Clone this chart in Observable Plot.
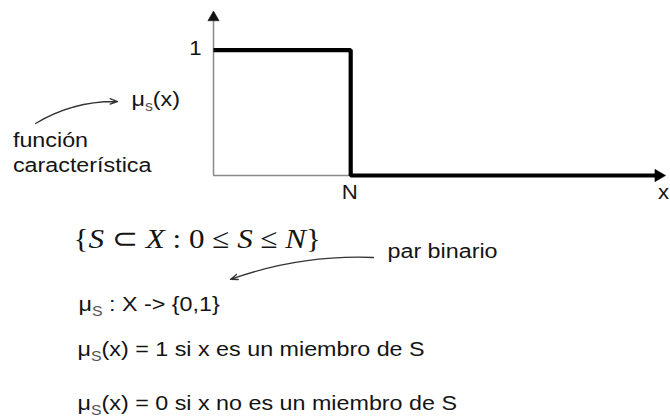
<!DOCTYPE html>
<html>
<head>
<meta charset="utf-8">
<script src="https://cdn.jsdelivr.net/npm/d3@7"></script>
<script src="https://cdn.jsdelivr.net/npm/@observablehq/plot@0.6"></script>
<style>
  body { margin: 0; background: #fff; }
  #chart svg { display: block; }
</style>
</head>
<body>
<div id="chart"></div>
<script>
// Characteristic (crisp) membership function of S: 1 on [0, N], 0 beyond N.
const N = 1;
const stepX = [0, N, 3.22];
const stepY = [1, 0, 0];
const xMax = 3.28;   // end of the x axis arrow
const yMax = 1.3;    // end of the y axis arrow

// Axis labels
const tickText = ["1", "N", "x"];

// Annotation texts ("_c" marks a subscript, "/…/" marks italic)
const noteText = [
  "μ_s(x)",
  "función\ncaracterística",
  "par binario",
  "μ_S : X -> {0,1}",
  "μ_S(x) = 1 si x es un miembro de S",
  "μ_S(x) = 0 si x no es un miembro de S"
];
const formulaText = ["{/S/ ⊂ /X/ : 0 ≤ /S/ ≤ /N/}"];

// Placement of the annotations, in chart units (baseline, left edge)
const noteAt = [
  [-0.598, 0.558],
  [-1.462, 0.024],
  [1.268, -0.654],
  [-0.984, -1.077],
  [-0.991, -1.443],
  [-0.991, -1.874]
];
const formulaAt = [[-1.02, -0.582]];
// Curved pointers: [x1, y1, x2, y2] and their bend in degrees
const pointerAt = [
  [-1.297, 0.415, -0.700, 0.590],
  [1.166, -0.654, 0.124, -0.829]
];
const pointerBend = [16, -11];

const step = stepX.map((x, i) => ({x, y: stepY[i]}));
const ticks = [
  {text: tickText[0], x: 0, y: 1, anchor: "end", dx: -12, dy: 5, line: "bottom"},
  {text: tickText[1], x: N, y: 0, anchor: "middle", dx: -1, dy: 9, line: "top"},
  {text: tickText[2], x: xMax, y: 0, anchor: "middle", dx: 0, dy: 9, line: "top"}
];
const notes = noteText.map((text, i) => ({text, x: noteAt[i][0], y: noteAt[i][1]}));
const formula = formulaText.map((text, i) => ({text, x: formulaAt[i][0], y: formulaAt[i][1]}));
const pointers = pointerAt.map(([x1, y1, x2, y2]) => ({x1, y1, x2, y2}));

const ink = "#141414";
const axisGray = "#8a8a8a";

const svg = Plot.plot({
  width: 670,
  height: 417,
  marginLeft: 213,
  marginRight: 7,
  marginTop: 12,
  marginBottom: 242,
  style: {fontFamily: "'Liberation Sans', Arial, sans-serif", background: "#fff", color: ink},
  x: {domain: [0, xMax], axis: null},
  y: {domain: [0, yMax], axis: null},
  marks: [
    // thin axes
    Plot.ruleX([0], {y1: 0, y2: yMax, stroke: axisGray, strokeWidth: 1.5}),
    Plot.ruleY([0], {x1: 0, x2: N, stroke: axisGray, strokeWidth: 1.5}),
    // the step function
    Plot.line(step, {x: "x", y: "y", curve: "step-after", stroke: "#000", strokeWidth: 4.2,
                     strokeLinejoin: "miter", strokeLinecap: "butt"}),
    // arrowheads of the axes
    Plot.dot([{x: 0, y: yMax}], {x: "x", y: "y", symbol: "triangle", r: 4.2, fill: "#111",
                                 stroke: "#111", strokeWidth: 0.5, dy: 5}),
    Plot.dot([{x: xMax, y: 0}], {x: "x", y: "y", symbol: "triangle", r: 4.6, fill: "#000",
                                 stroke: "#000", strokeWidth: 0.5, rotate: 90, dx: -5}),
    // axis labels
    ...ticks.map(t => Plot.text([t], {x: "x", y: "y", text: "text", textAnchor: t.anchor,
                     lineAnchor: t.line, dx: t.dx, dy: t.dy, fontSize: 20, fill: ink})),
    // annotations
    Plot.text(notes, {x: "x", y: "y", text: "text", textAnchor: "start", lineAnchor: "bottom",
                      lineHeight: 1.22, fontSize: 21, fill: ink}),
    Plot.text(formula, {x: "x", y: "y", text: "text", textAnchor: "start", lineAnchor: "bottom",
                        fontSize: 28, fontFamily: "'Liberation Serif', 'Times New Roman', serif", fill: ink}),
    // curved pointers
    ...pointers.map((p, i) => Plot.arrow([p], {x1: "x1", y1: "y1", x2: "x2", y2: "y2",
                     bend: pointerBend[i], stroke: "#333", strokeWidth: 1.3,
                     headLength: 9, headAngle: 40}))
  ]
});

// Rich text (subscripts, italics) and the slightly wide lettering of the figure
const stretch = 1.11;
d3.select(svg).selectAll("text").each(function () {
  const t = d3.select(this);
  const tr = t.attr("transform") || "";
  t.attr("transform", (tr + ` scale(${stretch},1)`).trim());
  if (this.childElementCount > 0) return;
  const s = this.textContent;
  if (!/[_\/]/.test(s)) return;
  this.textContent = "";
  const re = /_(.)|\/([^\/]+)\//g;
  let last = 0, m, shifted = false;
  const add = (txt, opts = {}) => {
    const ts = t.append("tspan").text(txt);
    if (opts.sub) ts.attr("font-size", "0.68em").attr("fill", "#555").attr("dy", 5);
    else if (shifted) ts.attr("dy", -5);
    if (opts.italic) ts.attr("font-style", "italic");
    shifted = !!opts.sub;
  };
  while ((m = re.exec(s))) {
    if (m.index > last) add(s.slice(last, m.index));
    if (m[1] !== undefined) add(m[1], {sub: true});
    else add(m[2], {italic: true});
    last = re.lastIndex;
  }
  if (last < s.length) add(s.slice(last));
});

document.getElementById("chart").appendChild(svg);
</script>
</body>
</html>
